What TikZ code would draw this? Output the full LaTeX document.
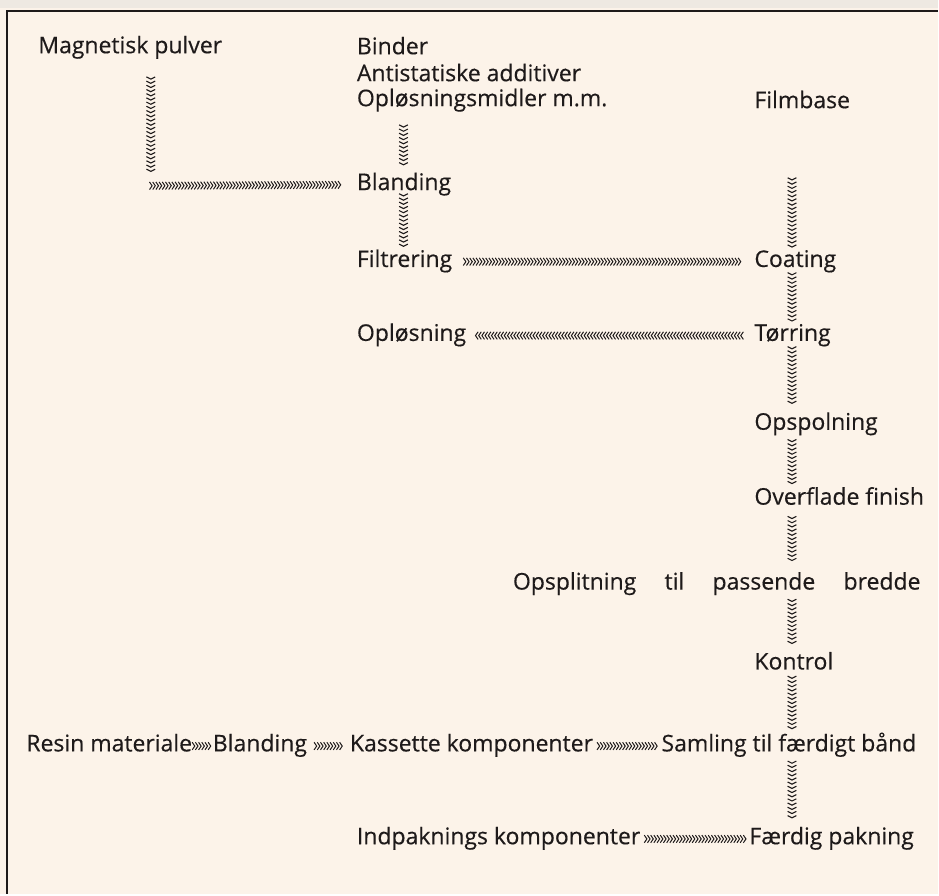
\documentclass[tikz,border=0pt]{standalone}
\usepackage{fontspec}
\setmainfont{Open Sans}[FakeBold=0.35]
\usepackage{tikz}
\usetikzlibrary{positioning, decorations.markings}
\definecolor{paper}{RGB}{252,243,233}
\definecolor{edge}{RGB}{238,233,226}
\definecolor{ink}{RGB}{30,26,26}

\tikzset{
  proc/.style={anchor=west, inner sep=0pt, text=ink, text height=0.75em, text depth=0.22em,
    font=\fontsize{11.5}{14}\selectfont},
  chevh/.style 2 args={decoration={markings,
    mark=between positions #1 and -#2 step 1.6pt with {\draw[ink, line width=0.5pt] (-0.65pt,1.9pt) -- (0.65pt,0pt) -- (-0.65pt,-1.9pt);}},
    postaction={decorate}},
  chevv/.style 2 args={decoration={markings,
    mark=between positions #1 and -#2 step 2.1pt with {\draw[ink, line width=0.55pt] (-0.55pt,2.2pt) -- (0.55pt,0pt) -- (-0.55pt,-2.2pt);}},
    postaction={decorate}},
  frame/.style={ink, line width=1.2pt}
}

\begin{document}
\begin{tikzpicture}[x=0.5pt, y=-0.5pt]
    \fill[paper] (0,0) rectangle (939,895);
    \fill[edge] (0,0) rectangle (939,8);
    \draw[frame] (7,895) -- (7,11) -- (939,11);

    \node[proc] (mag) at (38,48) {Magnetisk pulver};
    \node[proc] (binder) at (357,49) {Binder};
    \node[proc] (antistat) at (357,76) {Antistatiske additiver};
    \node[proc] (solv) at (357,101) {Opløsningsmidler m.m.};
    \node[proc] (film) at (755,103) {Filmbase};
    \node[proc] (bland) at (357,185) {Blanding};
    \node[proc] (filt) at (357,262) {Filtrering};
    \node[proc] (coat) at (755,262) {Coating};
    \node[proc] (oplos) at (357,336) {Opløsning};
    \node[proc] (torr) at (755,336) {Tørring};
    \node[proc] (opsp) at (755,425) {Opspolning};
    \node[proc] (over) at (755,500) {Overflade finish};
    \node[proc, anchor=east] (split) at (922,585) {\makebox[204pt][s]{Opsplitning til passende bredde}};
    \node[proc] (kontrol) at (755,665) {Kontrol};
    \node[proc] (resin) at (26,747) {Resin materiale};
    \node[proc] (bland2) [right=10pt of resin] {Blanding};
    \node[proc] (kass) at (350,747) {Kassette komponenter};
    \node[proc] (saml) at (662,747) {Samling til færdigt bånd};
    \node[proc] (pack) at (357,840) {Indpaknings komponenter};
    \node[proc] (ready) at (750,840) {Færdig pakning};

    \coordinate (knee) at (151,186);
    \coordinate (mid) at (404,0);
    \coordinate (spine) at (793,0);

    \path[chevv={10pt}{7.5pt}] (mag.south -| knee) -- (knee);
    \path[chevh={0pt}{8pt}] (knee) -- (bland.west);
    \path[chevv={7.5pt}{4.5pt}] (solv.south -| mid) -- (bland.north -| mid);
    \path[chevv={0pt}{1.5pt}] (bland.south -| mid) -- (filt.north -| mid);
    \path[chevh={6pt}{6pt}] (filt) -- (coat);
    \path[chevh={6pt}{5pt}] (torr) -- (oplos);

    \path[chevv={33pt}{1.5pt}] (film.south -| spine) -- (coat.north -| spine);
    \path[chevv={1pt}{1.5pt}] (coat.south -| spine) -- (torr.north -| spine);
    \path[chevv={1pt}{5pt}] (torr.south -| spine) -- (opsp.north -| spine);
    \path[chevv={3pt}{3pt}] (opsp.south -| spine) -- (over.north -| spine);
    \path[chevv={4pt}{5.5pt}] (over.south -| spine) -- (split.north -| spine);
    \path[chevv={3pt}{4pt}] (split.south -| spine) -- (kontrol.north -| spine);
    \path[chevv={1.5pt}{3.5pt}] (kontrol.south -| spine) -- (saml.north -| spine);
    \path[chevv={3pt}{5pt}] (saml.south -| spine) -- (ready.north -| spine);

    \path[chevh={0.5pt}{0.5pt}] (resin) -- (bland2);
    \path[chevh={4pt}{4pt}] (bland2) -- (kass);
    \path[chevh={2.5pt}{2.5pt}] (kass) -- (saml);
    \path[chevh={2.5pt}{2pt}] (pack) -- (ready);
\end{tikzpicture}
\end{document}
